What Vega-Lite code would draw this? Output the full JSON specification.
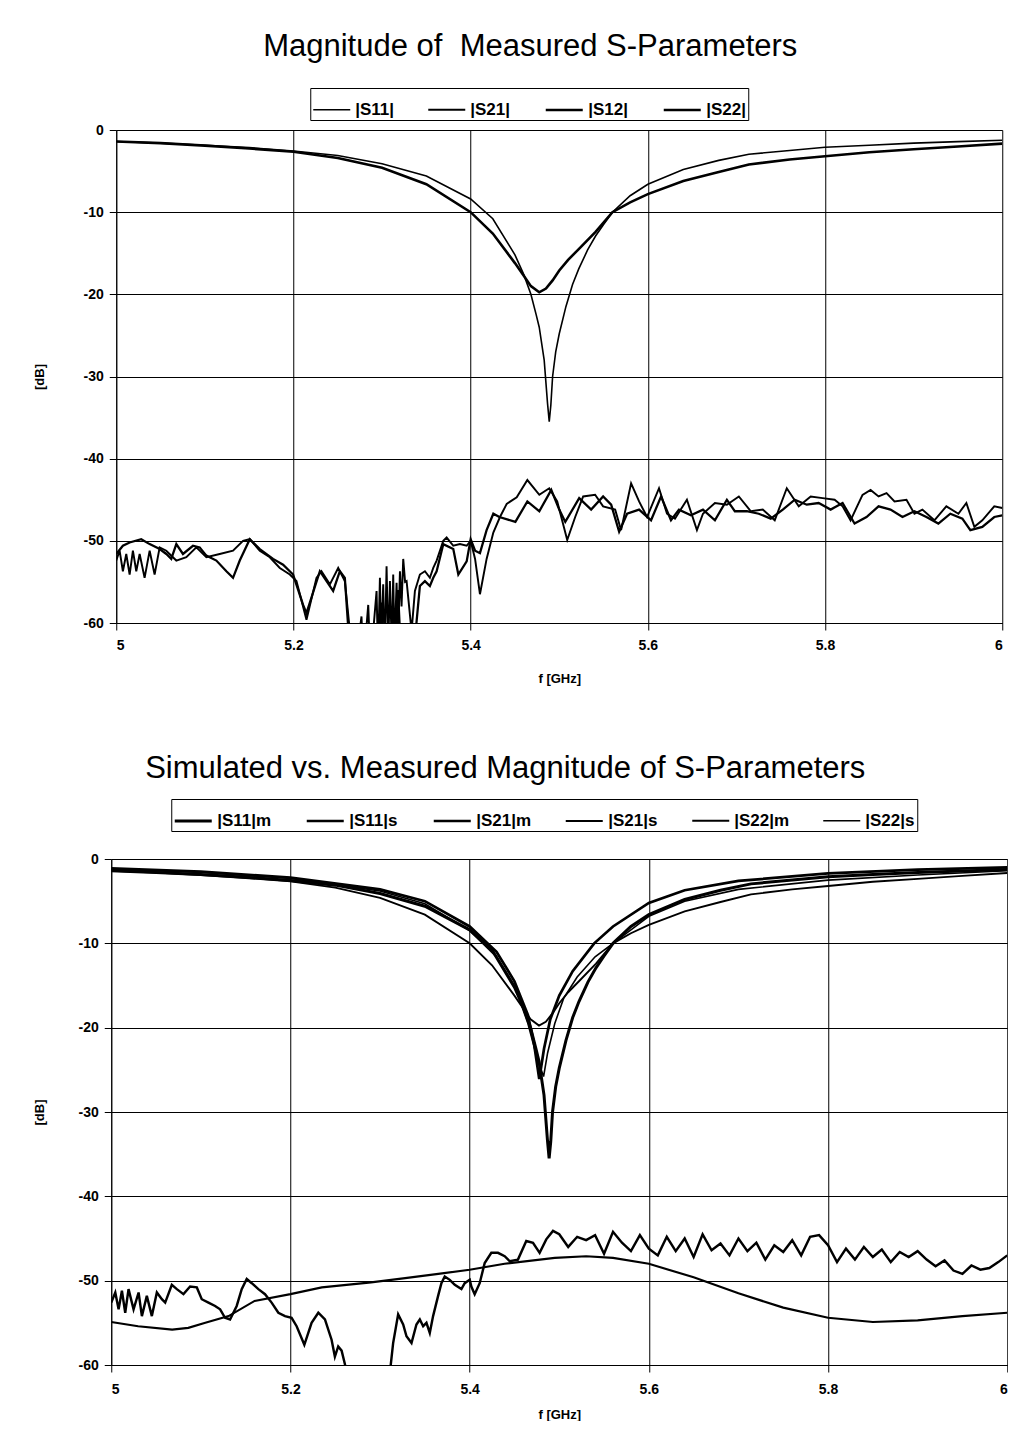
{
"$schema": "https://vega.github.io/schema/vega-lite/v6.json",
"background": "white",
"padding": {"left": 33, "top": 30, "right": 0, "bottom": 0},
"config": {
  "font": "Liberation Sans",
  "view": {"stroke": null},
  "axis": {"domainColor": "black", "gridColor": "black", "gridOpacity": 1, "gridWidth": 1, "tickColor": "black", "labelColor": "black", "titleColor": "black", "labelFont": "Liberation Sans", "labelFontWeight": "bold", "labelFontSize": 14, "titleFont": "Liberation Sans", "titleFontWeight": "bold", "titleFontSize": 13, "tickSize": 7, "grid": true},
  "legend": {"labelFont": "Liberation Sans", "labelFontWeight": "bold", "labelFontSize": 17, "labelColor": "black", "symbolType": "stroke", "symbolSize": 1369, "symbolStrokeColor": "black", "strokeColor": "black", "padding": 2, "columnPadding": 30, "labelOffset": 4, "direction": "horizontal", "orient": "none", "title": null}
},
"columns": 1,
"center": true,
"spacing": 67,
"resolve": {"scale": {"strokeWidth": "independent"}, "legend": {"strokeWidth": "independent"}},
"concat": [
{
  "width": 886, "height": 493,
  "title": {"text": "Magnitude of\u00a0 Measured S-Parameters", "font": "Liberation Sans", "fontSize": 31, "fontWeight": "normal", "color": "black", "anchor": "middle", "frame": "group", "dx": -29, "offset": 1, "baseline": "alphabetic"},
  "data": {"values": [
    {"s":"|S11|","f":5.0,"v":-1.4},{"s":"|S11|","f":5.05,"v":-1.6},{"s":"|S11|","f":5.1,"v":-1.85},{"s":"|S11|","f":5.15,"v":-2.15},{"s":"|S11|","f":5.2,"v":-2.55},{"s":"|S11|","f":5.25,"v":-3.1},{"s":"|S11|","f":5.3,"v":-4.1},{"s":"|S11|","f":5.35,"v":-5.6},{"s":"|S11|","f":5.4,"v":-8.4},{"s":"|S11|","f":5.425,"v":-10.8},{"s":"|S11|","f":5.45,"v":-15.2},{"s":"|S11|","f":5.46,"v":-17.6},{"s":"|S11|","f":5.468,"v":-20.0},{"s":"|S11|","f":5.474,"v":-22.5},{"s":"|S11|","f":5.4774,"v":-24.0},{"s":"|S11|","f":5.483,"v":-28.0},{"s":"|S11|","f":5.4868,"v":-33.3},{"s":"|S11|","f":5.4887,"v":-35.5},{"s":"|S11|","f":5.4905,"v":-33.5},{"s":"|S11|","f":5.4925,"v":-30.0},{"s":"|S11|","f":5.496,"v":-27.0},{"s":"|S11|","f":5.5,"v":-24.8},{"s":"|S11|","f":5.5075,"v":-21.5},{"s":"|S11|","f":5.515,"v":-18.8},{"s":"|S11|","f":5.522,"v":-16.9},{"s":"|S11|","f":5.532,"v":-14.6},{"s":"|S11|","f":5.541,"v":-12.9},{"s":"|S11|","f":5.55,"v":-11.5},{"s":"|S11|","f":5.56,"v":-10.0},{"s":"|S11|","f":5.58,"v":-8.0},{"s":"|S11|","f":5.6,"v":-6.6},{"s":"|S11|","f":5.64,"v":-4.8},{"s":"|S11|","f":5.68,"v":-3.7},{"s":"|S11|","f":5.714,"v":-2.95},{"s":"|S11|","f":5.76,"v":-2.5},{"s":"|S11|","f":5.8,"v":-2.1},{"s":"|S11|","f":5.85,"v":-1.85},{"s":"|S11|","f":5.9,"v":-1.6},{"s":"|S11|","f":5.95,"v":-1.42},{"s":"|S11|","f":6.0,"v":-1.25},
    {"s":"|S22|","f":5.0,"v":-1.4},{"s":"|S22|","f":5.05,"v":-1.6},{"s":"|S22|","f":5.1,"v":-1.9},{"s":"|S22|","f":5.15,"v":-2.25},{"s":"|S22|","f":5.2,"v":-2.65},{"s":"|S22|","f":5.25,"v":-3.4},{"s":"|S22|","f":5.3,"v":-4.6},{"s":"|S22|","f":5.35,"v":-6.6},{"s":"|S22|","f":5.4,"v":-10.0},{"s":"|S22|","f":5.425,"v":-12.6},{"s":"|S22|","f":5.45,"v":-16.2},{"s":"|S22|","f":5.459,"v":-17.6},{"s":"|S22|","f":5.468,"v":-19.0},{"s":"|S22|","f":5.4774,"v":-19.75},{"s":"|S22|","f":5.485,"v":-19.3},{"s":"|S22|","f":5.4925,"v":-18.3},{"s":"|S22|","f":5.5,"v":-17.1},{"s":"|S22|","f":5.51,"v":-15.8},{"s":"|S22|","f":5.522,"v":-14.5},{"s":"|S22|","f":5.541,"v":-12.4},{"s":"|S22|","f":5.56,"v":-10.0},{"s":"|S22|","f":5.58,"v":-8.8},{"s":"|S22|","f":5.6,"v":-7.8},{"s":"|S22|","f":5.64,"v":-6.2},{"s":"|S22|","f":5.68,"v":-5.1},{"s":"|S22|","f":5.714,"v":-4.2},{"s":"|S22|","f":5.76,"v":-3.6},{"s":"|S22|","f":5.8,"v":-3.2},{"s":"|S22|","f":5.85,"v":-2.7},{"s":"|S22|","f":5.9,"v":-2.35},{"s":"|S22|","f":5.95,"v":-2.0},{"s":"|S22|","f":6.0,"v":-1.66},
    {"s":"|S21|","f":5.0,"v":-52.4},{"s":"|S21|","f":5.0038,"v":-51.2},{"s":"|S21|","f":5.0075,"v":-53.7},{"s":"|S21|","f":5.0113,"v":-51.6},{"s":"|S21|","f":5.0151,"v":-54.1},{"s":"|S21|","f":5.0188,"v":-51.2},{"s":"|S21|","f":5.0226,"v":-53.7},{"s":"|S21|","f":5.0264,"v":-51.6},{"s":"|S21|","f":5.032,"v":-54.5},{"s":"|S21|","f":5.0377,"v":-51.2},{"s":"|S21|","f":5.0433,"v":-54.1},{"s":"|S21|","f":5.049,"v":-50.8},{"s":"|S21|","f":5.0565,"v":-51.2},{"s":"|S21|","f":5.0678,"v":-52.4},{"s":"|S21|","f":5.0791,"v":-52.0},{"s":"|S21|","f":5.0904,"v":-50.8},{"s":"|S21|","f":5.1017,"v":-52.0},{"s":"|S21|","f":5.1168,"v":-51.6},{"s":"|S21|","f":5.1318,"v":-51.2},{"s":"|S21|","f":5.1431,"v":-50.0},{"s":"|S21|","f":5.1507,"v":-49.8},{"s":"|S21|","f":5.162,"v":-51.2},{"s":"|S21|","f":5.1733,"v":-52.0},{"s":"|S21|","f":5.1846,"v":-53.3},{"s":"|S21|","f":5.1959,"v":-54.1},{"s":"|S21|","f":5.2034,"v":-54.9},{"s":"|S21|","f":5.2147,"v":-59.6},{"s":"|S21|","f":5.226,"v":-54.5},{"s":"|S21|","f":5.2316,"v":-53.7},{"s":"|S21|","f":5.2411,"v":-55.3},{"s":"|S21|","f":5.2505,"v":-53.3},{"s":"|S21|","f":5.258,"v":-54.9},{"s":"|S21|","f":5.2637,"v":-61},{"s":"|S21|","f":5.27,"v":-65},{"s":"|S21|","f":5.2768,"v":-59.2},{"s":"|S21|","f":5.279,"v":-65},{"s":"|S21|","f":5.2844,"v":-57.8},{"s":"|S21|","f":5.287,"v":-65},{"s":"|S21|","f":5.2938,"v":-56.1},{"s":"|S21|","f":5.2955,"v":-64},{"s":"|S21|","f":5.2976,"v":-54.5},{"s":"|S21|","f":5.299,"v":-63},{"s":"|S21|","f":5.3013,"v":-55.3},{"s":"|S21|","f":5.303,"v":-64},{"s":"|S21|","f":5.3051,"v":-53.1},{"s":"|S21|","f":5.307,"v":-63},{"s":"|S21|","f":5.3089,"v":-54.9},{"s":"|S21|","f":5.311,"v":-63},{"s":"|S21|","f":5.3126,"v":-54.1},{"s":"|S21|","f":5.314,"v":-63},{"s":"|S21|","f":5.3164,"v":-55.1},{"s":"|S21|","f":5.318,"v":-62},{"s":"|S21|","f":5.3202,"v":-53.7},{"s":"|S21|","f":5.322,"v":-58},{"s":"|S21|","f":5.3239,"v":-52.2},{"s":"|S21|","f":5.326,"v":-55},{"s":"|S21|","f":5.3277,"v":-54.9},{"s":"|S21|","f":5.3333,"v":-61},{"s":"|S21|","f":5.3371,"v":-56.1},{"s":"|S21|","f":5.3427,"v":-54.1},{"s":"|S21|","f":5.3484,"v":-53.7},{"s":"|S21|","f":5.354,"v":-54.5},{"s":"|S21|","f":5.3578,"v":-53.3},{"s":"|S21|","f":5.3616,"v":-52.4},{"s":"|S21|","f":5.3691,"v":-50.0},{"s":"|S21|","f":5.3729,"v":-49.6},{"s":"|S21|","f":5.3804,"v":-50.6},{"s":"|S21|","f":5.3879,"v":-50.4},{"s":"|S21|","f":5.3955,"v":-50.6},{"s":"|S21|","f":5.4,"v":-50.0},{"s":"|S21|","f":5.405,"v":-52.2},{"s":"|S21|","f":5.4105,"v":-56.5},{"s":"|S21|","f":5.418,"v":-52.2},{"s":"|S21|","f":5.4256,"v":-49.0},{"s":"|S21|","f":5.4331,"v":-47.1},{"s":"|S21|","f":5.4407,"v":-45.5},{"s":"|S21|","f":5.452,"v":-44.7},{"s":"|S21|","f":5.464,"v":-42.6},{"s":"|S21|","f":5.4775,"v":-44.4},{"s":"|S21|","f":5.4887,"v":-43.6},{"s":"|S21|","f":5.4977,"v":-45.2},{"s":"|S21|","f":5.509,"v":-49.9},{"s":"|S21|","f":5.518,"v":-47.1},{"s":"|S21|","f":5.527,"v":-44.6},{"s":"|S21|","f":5.5405,"v":-44.4},{"s":"|S21|","f":5.5495,"v":-45.8},{"s":"|S21|","f":5.5631,"v":-46.2},{"s":"|S21|","f":5.5698,"v":-48.7},{"s":"|S21|","f":5.5811,"v":-43.0},{"s":"|S21|","f":5.5901,"v":-45.2},{"s":"|S21|","f":5.5991,"v":-47.1},{"s":"|S21|","f":5.6126,"v":-43.6},{"s":"|S21|","f":5.6216,"v":-46.7},{"s":"|S21|","f":5.6306,"v":-47.3},{"s":"|S21|","f":5.6441,"v":-45.0},{"s":"|S21|","f":5.6554,"v":-48.7},{"s":"|S21|","f":5.6622,"v":-46.7},{"s":"|S21|","f":5.6757,"v":-45.4},{"s":"|S21|","f":5.6892,"v":-45.6},{"s":"|S21|","f":5.7027,"v":-44.6},{"s":"|S21|","f":5.7162,"v":-46.4},{"s":"|S21|","f":5.7297,"v":-46.2},{"s":"|S21|","f":5.7432,"v":-47.5},{"s":"|S21|","f":5.7568,"v":-43.6},{"s":"|S21|","f":5.7703,"v":-45.8},{"s":"|S21|","f":5.7838,"v":-44.6},{"s":"|S21|","f":5.7973,"v":-44.8},{"s":"|S21|","f":5.8108,"v":-45.0},{"s":"|S21|","f":5.8198,"v":-45.8},{"s":"|S21|","f":5.8288,"v":-47.5},{"s":"|S21|","f":5.8423,"v":-44.4},{"s":"|S21|","f":5.8514,"v":-43.8},{"s":"|S21|","f":5.8604,"v":-44.6},{"s":"|S21|","f":5.8694,"v":-44.2},{"s":"|S21|","f":5.8784,"v":-45.2},{"s":"|S21|","f":5.8919,"v":-45.0},{"s":"|S21|","f":5.9009,"v":-46.7},{"s":"|S21|","f":5.9099,"v":-46.2},{"s":"|S21|","f":5.9234,"v":-47.5},{"s":"|S21|","f":5.9369,"v":-45.8},{"s":"|S21|","f":5.9505,"v":-46.7},{"s":"|S21|","f":5.9595,"v":-45.4},{"s":"|S21|","f":5.9685,"v":-48.3},{"s":"|S21|","f":5.9775,"v":-47.5},{"s":"|S21|","f":5.991,"v":-45.8},{"s":"|S21|","f":6.0,"v":-46.0},
    {"s":"|S12|","f":5.0,"v":-51.6},{"s":"|S12|","f":5.0075,"v":-50.6},{"s":"|S12|","f":5.0151,"v":-50.2},{"s":"|S12|","f":5.0282,"v":-49.8},{"s":"|S12|","f":5.0377,"v":-50.4},{"s":"|S12|","f":5.049,"v":-51.0},{"s":"|S12|","f":5.0565,"v":-51.6},{"s":"|S12|","f":5.0621,"v":-52.2},{"s":"|S12|","f":5.0678,"v":-50.4},{"s":"|S12|","f":5.0753,"v":-51.6},{"s":"|S12|","f":5.0866,"v":-50.6},{"s":"|S12|","f":5.0942,"v":-50.8},{"s":"|S12|","f":5.1017,"v":-51.8},{"s":"|S12|","f":5.113,"v":-52.4},{"s":"|S12|","f":5.1243,"v":-53.7},{"s":"|S12|","f":5.1318,"v":-54.5},{"s":"|S12|","f":5.1394,"v":-52.4},{"s":"|S12|","f":5.1507,"v":-49.8},{"s":"|S12|","f":5.162,"v":-51.0},{"s":"|S12|","f":5.177,"v":-52.2},{"s":"|S12|","f":5.1883,"v":-52.9},{"s":"|S12|","f":5.1996,"v":-54.1},{"s":"|S12|","f":5.2109,"v":-57.8},{"s":"|S12|","f":5.2147,"v":-58.8},{"s":"|S12|","f":5.2298,"v":-53.7},{"s":"|S12|","f":5.2448,"v":-56.1},{"s":"|S12|","f":5.2524,"v":-53.7},{"s":"|S12|","f":5.258,"v":-54.5},{"s":"|S12|","f":5.2618,"v":-60.5},{"s":"|S12|","f":5.265,"v":-65},{"s":"|S12|","f":5.29,"v":-66},{"s":"|S12|","f":5.2975,"v":-62},{"s":"|S12|","f":5.2995,"v":-57.5},{"s":"|S12|","f":5.301,"v":-63},{"s":"|S12|","f":5.31,"v":-65},{"s":"|S12|","f":5.315,"v":-61},{"s":"|S12|","f":5.318,"v":-56},{"s":"|S12|","f":5.321,"v":-63},{"s":"|S12|","f":5.33,"v":-64},{"s":"|S12|","f":5.3371,"v":-62},{"s":"|S12|","f":5.3427,"v":-55.5},{"s":"|S12|","f":5.3484,"v":-54.9},{"s":"|S12|","f":5.354,"v":-55.5},{"s":"|S12|","f":5.3578,"v":-54.5},{"s":"|S12|","f":5.3616,"v":-53.7},{"s":"|S12|","f":5.3691,"v":-50.4},{"s":"|S12|","f":5.3804,"v":-51.0},{"s":"|S12|","f":5.3861,"v":-54.1},{"s":"|S12|","f":5.3955,"v":-52.5},{"s":"|S12|","f":5.4,"v":-49.8},{"s":"|S12|","f":5.405,"v":-51.2},{"s":"|S12|","f":5.4105,"v":-51.5},{"s":"|S12|","f":5.418,"v":-48.7},{"s":"|S12|","f":5.4256,"v":-46.7},{"s":"|S12|","f":5.4324,"v":-47.1},{"s":"|S12|","f":5.4505,"v":-47.7},{"s":"|S12|","f":5.464,"v":-45.2},{"s":"|S12|","f":5.4775,"v":-46.4},{"s":"|S12|","f":5.491,"v":-43.8},{"s":"|S12|","f":5.5,"v":-46.2},{"s":"|S12|","f":5.5068,"v":-47.7},{"s":"|S12|","f":5.5225,"v":-44.8},{"s":"|S12|","f":5.536,"v":-46.2},{"s":"|S12|","f":5.5495,"v":-44.6},{"s":"|S12|","f":5.5586,"v":-45.6},{"s":"|S12|","f":5.5676,"v":-48.9},{"s":"|S12|","f":5.5766,"v":-46.7},{"s":"|S12|","f":5.5901,"v":-46.2},{"s":"|S12|","f":5.6036,"v":-47.5},{"s":"|S12|","f":5.6149,"v":-44.6},{"s":"|S12|","f":5.6261,"v":-47.5},{"s":"|S12|","f":5.6351,"v":-46.2},{"s":"|S12|","f":5.6486,"v":-46.9},{"s":"|S12|","f":5.6622,"v":-46.2},{"s":"|S12|","f":5.6757,"v":-47.5},{"s":"|S12|","f":5.6892,"v":-45.0},{"s":"|S12|","f":5.6982,"v":-46.4},{"s":"|S12|","f":5.7117,"v":-46.4},{"s":"|S12|","f":5.7252,"v":-46.7},{"s":"|S12|","f":5.7387,"v":-47.3},{"s":"|S12|","f":5.7523,"v":-46.2},{"s":"|S12|","f":5.7658,"v":-45.0},{"s":"|S12|","f":5.7793,"v":-45.6},{"s":"|S12|","f":5.7928,"v":-45.4},{"s":"|S12|","f":5.8063,"v":-46.2},{"s":"|S12|","f":5.8198,"v":-45.4},{"s":"|S12|","f":5.8333,"v":-47.9},{"s":"|S12|","f":5.8468,"v":-47.1},{"s":"|S12|","f":5.8604,"v":-45.8},{"s":"|S12|","f":5.8739,"v":-46.2},{"s":"|S12|","f":5.8874,"v":-47.1},{"s":"|S12|","f":5.9009,"v":-46.4},{"s":"|S12|","f":5.9144,"v":-47.1},{"s":"|S12|","f":5.9279,"v":-47.9},{"s":"|S12|","f":5.9414,"v":-46.7},{"s":"|S12|","f":5.955,"v":-47.3},{"s":"|S12|","f":5.964,"v":-48.7},{"s":"|S12|","f":5.9775,"v":-48.3},{"s":"|S12|","f":5.991,"v":-47.1},{"s":"|S12|","f":6.0,"v":-46.9}
  ]},
  "mark": {"type": "line", "color": "black", "clip": true},
  "encoding": {
    "x": {"field": "f", "type": "quantitative", "scale": {"domain": [5, 6], "nice": false, "zero": false}, "axis": {"values": [5, 5.2, 5.4, 5.6, 5.8, 6], "labelExpr": "datum.value + ''", "title": "f [GHz]", "labelPadding": 8, "titlePadding": 20}},
    "y": {"field": "v", "type": "quantitative", "scale": {"domain": [-60, 0], "nice": false}, "axis": {"values": [0, -10, -20, -30, -40, -50, -60], "labelExpr": "datum.value + ''", "title": "[dB]", "labelPadding": 6, "titlePadding": 37}},
    "strokeWidth": {"field": "s", "type": "nominal", "scale": {"domain": ["|S11|", "|S21|", "|S12|", "|S22|"], "range": [1.6, 2.6, 3, 2.2]}, "legend": {"legendX": 194, "legendY": -42}}
  }
},
{
  "width": 896, "height": 506,
  "title": {"text": "Simulated vs. Measured Magnitude of S-Parameters", "font": "Liberation Sans", "fontSize": 31, "fontWeight": "normal", "color": "black", "anchor": "middle", "frame": "group", "dx": -54, "offset": -10, "baseline": "alphabetic"},
  "data": {"values": [
    {"s":"|S11|m","f":5.0,"v":-1.4},{"s":"|S11|m","f":5.05,"v":-1.6},{"s":"|S11|m","f":5.1,"v":-1.85},{"s":"|S11|m","f":5.15,"v":-2.15},{"s":"|S11|m","f":5.2,"v":-2.55},{"s":"|S11|m","f":5.25,"v":-3.1},{"s":"|S11|m","f":5.3,"v":-4.1},{"s":"|S11|m","f":5.35,"v":-5.6},{"s":"|S11|m","f":5.4,"v":-8.4},{"s":"|S11|m","f":5.425,"v":-10.8},{"s":"|S11|m","f":5.45,"v":-15.2},{"s":"|S11|m","f":5.46,"v":-17.6},{"s":"|S11|m","f":5.468,"v":-20.0},{"s":"|S11|m","f":5.474,"v":-22.5},{"s":"|S11|m","f":5.4774,"v":-24.0},{"s":"|S11|m","f":5.483,"v":-28.0},{"s":"|S11|m","f":5.4868,"v":-33.3},{"s":"|S11|m","f":5.4887,"v":-35.5},{"s":"|S11|m","f":5.4905,"v":-33.5},{"s":"|S11|m","f":5.4925,"v":-30.0},{"s":"|S11|m","f":5.496,"v":-27.0},{"s":"|S11|m","f":5.5,"v":-24.8},{"s":"|S11|m","f":5.5075,"v":-21.5},{"s":"|S11|m","f":5.515,"v":-18.8},{"s":"|S11|m","f":5.522,"v":-16.9},{"s":"|S11|m","f":5.532,"v":-14.6},{"s":"|S11|m","f":5.541,"v":-12.9},{"s":"|S11|m","f":5.55,"v":-11.5},{"s":"|S11|m","f":5.56,"v":-10.0},{"s":"|S11|m","f":5.58,"v":-8.0},{"s":"|S11|m","f":5.6,"v":-6.6},{"s":"|S11|m","f":5.64,"v":-4.8},{"s":"|S11|m","f":5.68,"v":-3.7},{"s":"|S11|m","f":5.714,"v":-2.95},{"s":"|S11|m","f":5.76,"v":-2.5},{"s":"|S11|m","f":5.8,"v":-2.1},{"s":"|S11|m","f":5.85,"v":-1.85},{"s":"|S11|m","f":5.9,"v":-1.6},{"s":"|S11|m","f":5.95,"v":-1.42},{"s":"|S11|m","f":6.0,"v":-1.25},
    {"s":"|S22|m","f":5.0,"v":-1.4},{"s":"|S22|m","f":5.05,"v":-1.6},{"s":"|S22|m","f":5.1,"v":-1.9},{"s":"|S22|m","f":5.15,"v":-2.25},{"s":"|S22|m","f":5.2,"v":-2.65},{"s":"|S22|m","f":5.25,"v":-3.4},{"s":"|S22|m","f":5.3,"v":-4.6},{"s":"|S22|m","f":5.35,"v":-6.6},{"s":"|S22|m","f":5.4,"v":-10.0},{"s":"|S22|m","f":5.425,"v":-12.6},{"s":"|S22|m","f":5.45,"v":-16.2},{"s":"|S22|m","f":5.459,"v":-17.6},{"s":"|S22|m","f":5.468,"v":-19.0},{"s":"|S22|m","f":5.4774,"v":-19.75},{"s":"|S22|m","f":5.485,"v":-19.3},{"s":"|S22|m","f":5.4925,"v":-18.3},{"s":"|S22|m","f":5.5,"v":-17.1},{"s":"|S22|m","f":5.51,"v":-15.8},{"s":"|S22|m","f":5.522,"v":-14.5},{"s":"|S22|m","f":5.541,"v":-12.4},{"s":"|S22|m","f":5.56,"v":-10.0},{"s":"|S22|m","f":5.58,"v":-8.8},{"s":"|S22|m","f":5.6,"v":-7.8},{"s":"|S22|m","f":5.64,"v":-6.2},{"s":"|S22|m","f":5.68,"v":-5.1},{"s":"|S22|m","f":5.714,"v":-4.2},{"s":"|S22|m","f":5.76,"v":-3.6},{"s":"|S22|m","f":5.8,"v":-3.2},{"s":"|S22|m","f":5.85,"v":-2.7},{"s":"|S22|m","f":5.9,"v":-2.35},{"s":"|S22|m","f":5.95,"v":-2.0},{"s":"|S22|m","f":6.0,"v":-1.66},
    {"s":"|S11|s","f":5.0,"v":-1.1},{"s":"|S11|s","f":5.1,"v":-1.5},{"s":"|S11|s","f":5.2,"v":-2.2},{"s":"|S11|s","f":5.3,"v":-3.6},{"s":"|S11|s","f":5.35,"v":-5.0},{"s":"|S11|s","f":5.4,"v":-8.0},{"s":"|S11|s","f":5.43,"v":-11.0},{"s":"|S11|s","f":5.45,"v":-14.5},{"s":"|S11|s","f":5.465,"v":-18.5},{"s":"|S11|s","f":5.472,"v":-22.0},{"s":"|S11|s","f":5.4777,"v":-26.1},{"s":"|S11|s","f":5.483,"v":-22.5},{"s":"|S11|s","f":5.49,"v":-19.0},{"s":"|S11|s","f":5.5,"v":-16.2},{"s":"|S11|s","f":5.515,"v":-13.3},{"s":"|S11|s","f":5.539,"v":-10.0},{"s":"|S11|s","f":5.56,"v":-8.0},{"s":"|S11|s","f":5.6,"v":-5.2},{"s":"|S11|s","f":5.64,"v":-3.7},{"s":"|S11|s","f":5.7,"v":-2.6},{"s":"|S11|s","f":5.8,"v":-1.7},{"s":"|S11|s","f":5.9,"v":-1.25},{"s":"|S11|s","f":6.0,"v":-1.0},
    {"s":"|S22|s","f":5.0,"v":-1.2},{"s":"|S22|s","f":5.1,"v":-1.6},{"s":"|S22|s","f":5.2,"v":-2.3},{"s":"|S22|s","f":5.3,"v":-3.8},{"s":"|S22|s","f":5.35,"v":-5.3},{"s":"|S22|s","f":5.4,"v":-8.5},{"s":"|S22|s","f":5.43,"v":-11.6},{"s":"|S22|s","f":5.45,"v":-15.0},{"s":"|S22|s","f":5.465,"v":-19.5},{"s":"|S22|s","f":5.475,"v":-23.5},{"s":"|S22|s","f":5.4825,"v":-25.8},{"s":"|S22|s","f":5.487,"v":-23.0},{"s":"|S22|s","f":5.495,"v":-19.5},{"s":"|S22|s","f":5.505,"v":-16.5},{"s":"|S22|s","f":5.52,"v":-14.0},{"s":"|S22|s","f":5.54,"v":-11.6},{"s":"|S22|s","f":5.56,"v":-10.0},{"s":"|S22|s","f":5.6,"v":-6.8},{"s":"|S22|s","f":5.64,"v":-5.0},{"s":"|S22|s","f":5.7,"v":-3.6},{"s":"|S22|s","f":5.8,"v":-2.5},{"s":"|S22|s","f":5.9,"v":-1.9},{"s":"|S22|s","f":6.0,"v":-1.4},
    {"s":"|S21|m","f":5.0,"v":-52.6},{"s":"|S21|m","f":5.0045,"v":-51.4},{"s":"|S21|m","f":5.0082,"v":-53.4},{"s":"|S21|m","f":5.0119,"v":-51.2},{"s":"|S21|m","f":5.0156,"v":-53.8},{"s":"|S21|m","f":5.0193,"v":-51.0},{"s":"|S21|m","f":5.0249,"v":-53.4},{"s":"|S21|m","f":5.0305,"v":-51.4},{"s":"|S21|m","f":5.0342,"v":-54.2},{"s":"|S21|m","f":5.0397,"v":-51.8},{"s":"|S21|m","f":5.0453,"v":-54.2},{"s":"|S21|m","f":5.0509,"v":-51.4},{"s":"|S21|m","f":5.0565,"v":-52.2},{"s":"|S21|m","f":5.0602,"v":-52.6},{"s":"|S21|m","f":5.0676,"v":-50.5},{"s":"|S21|m","f":5.0732,"v":-51.0},{"s":"|S21|m","f":5.0806,"v":-51.6},{"s":"|S21|m","f":5.088,"v":-50.7},{"s":"|S21|m","f":5.0955,"v":-50.8},{"s":"|S21|m","f":5.101,"v":-52.2},{"s":"|S21|m","f":5.1085,"v":-52.6},{"s":"|S21|m","f":5.1159,"v":-53.0},{"s":"|S21|m","f":5.1215,"v":-53.4},{"s":"|S21|m","f":5.127,"v":-54.4},{"s":"|S21|m","f":5.1326,"v":-54.6},{"s":"|S21|m","f":5.14,"v":-53.0},{"s":"|S21|m","f":5.1456,"v":-51.0},{"s":"|S21|m","f":5.1512,"v":-49.8},{"s":"|S21|m","f":5.1568,"v":-50.3},{"s":"|S21|m","f":5.1642,"v":-51.0},{"s":"|S21|m","f":5.1716,"v":-51.6},{"s":"|S21|m","f":5.179,"v":-52.6},{"s":"|S21|m","f":5.1865,"v":-53.8},{"s":"|S21|m","f":5.1939,"v":-54.2},{"s":"|S21|m","f":5.2013,"v":-54.4},{"s":"|S21|m","f":5.2069,"v":-55.4},{"s":"|S21|m","f":5.2155,"v":-57.6},{"s":"|S21|m","f":5.2236,"v":-55.0},{"s":"|S21|m","f":5.2311,"v":-53.8},{"s":"|S21|m","f":5.2385,"v":-54.6},{"s":"|S21|m","f":5.2459,"v":-57.0},{"s":"|S21|m","f":5.2496,"v":-59.0},{"s":"|S21|m","f":5.2533,"v":-57.8},{"s":"|S21|m","f":5.2571,"v":-58.3},{"s":"|S21|m","f":5.2608,"v":-59.9},{"s":"|S21|m","f":5.2626,"v":-61},{"s":"|S21|m","f":5.28,"v":-66},{"s":"|S21|m","f":5.3,"v":-66},{"s":"|S21|m","f":5.3109,"v":-61},{"s":"|S21|m","f":5.3146,"v":-57.4},{"s":"|S21|m","f":5.3202,"v":-54.0},{"s":"|S21|m","f":5.3258,"v":-55.2},{"s":"|S21|m","f":5.3295,"v":-56.6},{"s":"|S21|m","f":5.3351,"v":-57.4},{"s":"|S21|m","f":5.3406,"v":-55.2},{"s":"|S21|m","f":5.3444,"v":-54.6},{"s":"|S21|m","f":5.3481,"v":-55.4},{"s":"|S21|m","f":5.3518,"v":-55.0},{"s":"|S21|m","f":5.3555,"v":-56.2},{"s":"|S21|m","f":5.3592,"v":-54.2},{"s":"|S21|m","f":5.3648,"v":-51.8},{"s":"|S21|m","f":5.3685,"v":-50.3},{"s":"|S21|m","f":5.3722,"v":-49.5},{"s":"|S21|m","f":5.3778,"v":-49.9},{"s":"|S21|m","f":5.3834,"v":-50.5},{"s":"|S21|m","f":5.3908,"v":-51.0},{"s":"|S21|m","f":5.3945,"v":-50.3},{"s":"|S21|m","f":5.4001,"v":-49.9},{"s":"|S21|m","f":5.4019,"v":-50.7},{"s":"|S21|m","f":5.4056,"v":-51.6},{"s":"|S21|m","f":5.4112,"v":-50.3},{"s":"|S21|m","f":5.4168,"v":-47.9},{"s":"|S21|m","f":5.4242,"v":-46.7},{"s":"|S21|m","f":5.4316,"v":-46.7},{"s":"|S21|m","f":5.4391,"v":-47.1},{"s":"|S21|m","f":5.4447,"v":-47.7},{"s":"|S21|m","f":5.4539,"v":-47.5},{"s":"|S21|m","f":5.4632,"v":-45.3},{"s":"|S21|m","f":5.4707,"v":-45.5},{"s":"|S21|m","f":5.4781,"v":-46.7},{"s":"|S21|m","f":5.4855,"v":-45.1},{"s":"|S21|m","f":5.493,"v":-44.1},{"s":"|S21|m","f":5.5,"v":-44.5},{"s":"|S21|m","f":5.51,"v":-46.0},{"s":"|S21|m","f":5.52,"v":-44.8},{"s":"|S21|m","f":5.53,"v":-45.2},{"s":"|S21|m","f":5.54,"v":-44.6},{"s":"|S21|m","f":5.55,"v":-46.8},{"s":"|S21|m","f":5.56,"v":-44.2},{"s":"|S21|m","f":5.57,"v":-45.5},{"s":"|S21|m","f":5.58,"v":-46.5},{"s":"|S21|m","f":5.59,"v":-44.6},{"s":"|S21|m","f":5.6,"v":-46.2},{"s":"|S21|m","f":5.61,"v":-47.0},{"s":"|S21|m","f":5.62,"v":-44.8},{"s":"|S21|m","f":5.63,"v":-46.5},{"s":"|S21|m","f":5.64,"v":-45.0},{"s":"|S21|m","f":5.65,"v":-47.2},{"s":"|S21|m","f":5.66,"v":-44.5},{"s":"|S21|m","f":5.67,"v":-46.4},{"s":"|S21|m","f":5.68,"v":-45.6},{"s":"|S21|m","f":5.69,"v":-47.0},{"s":"|S21|m","f":5.7,"v":-45.0},{"s":"|S21|m","f":5.71,"v":-46.5},{"s":"|S21|m","f":5.72,"v":-45.5},{"s":"|S21|m","f":5.73,"v":-47.5},{"s":"|S21|m","f":5.74,"v":-45.8},{"s":"|S21|m","f":5.75,"v":-46.6},{"s":"|S21|m","f":5.76,"v":-45.2},{"s":"|S21|m","f":5.77,"v":-47.0},{"s":"|S21|m","f":5.78,"v":-44.8},{"s":"|S21|m","f":5.79,"v":-44.6},{"s":"|S21|m","f":5.8,"v":-45.8},{"s":"|S21|m","f":5.81,"v":-47.8},{"s":"|S21|m","f":5.82,"v":-46.2},{"s":"|S21|m","f":5.83,"v":-47.5},{"s":"|S21|m","f":5.84,"v":-46.0},{"s":"|S21|m","f":5.85,"v":-47.2},{"s":"|S21|m","f":5.86,"v":-46.3},{"s":"|S21|m","f":5.87,"v":-47.8},{"s":"|S21|m","f":5.88,"v":-46.6},{"s":"|S21|m","f":5.89,"v":-47.2},{"s":"|S21|m","f":5.9,"v":-46.5},{"s":"|S21|m","f":5.91,"v":-47.5},{"s":"|S21|m","f":5.92,"v":-48.3},{"s":"|S21|m","f":5.93,"v":-47.6},{"s":"|S21|m","f":5.94,"v":-48.8},{"s":"|S21|m","f":5.95,"v":-49.2},{"s":"|S21|m","f":5.96,"v":-48.2},{"s":"|S21|m","f":5.97,"v":-48.7},{"s":"|S21|m","f":5.98,"v":-48.5},{"s":"|S21|m","f":5.99,"v":-47.8},{"s":"|S21|m","f":6.0,"v":-47.0},
    {"s":"|S21|s","f":5.0,"v":-54.9},{"s":"|S21|s","f":5.03,"v":-55.4},{"s":"|S21|s","f":5.068,"v":-55.8},{"s":"|S21|s","f":5.086,"v":-55.6},{"s":"|S21|s","f":5.105,"v":-55.0},{"s":"|S21|s","f":5.131,"v":-54.2},{"s":"|S21|s","f":5.16,"v":-52.4},{"s":"|S21|s","f":5.2,"v":-51.6},{"s":"|S21|s","f":5.235,"v":-50.8},{"s":"|S21|s","f":5.29,"v":-50.2},{"s":"|S21|s","f":5.328,"v":-49.7},{"s":"|S21|s","f":5.365,"v":-49.2},{"s":"|S21|s","f":5.4,"v":-48.7},{"s":"|S21|s","f":5.439,"v":-48.0},{"s":"|S21|s","f":5.495,"v":-47.3},{"s":"|S21|s","f":5.53,"v":-47.1},{"s":"|S21|s","f":5.56,"v":-47.3},{"s":"|S21|s","f":5.6,"v":-48.0},{"s":"|S21|s","f":5.65,"v":-49.6},{"s":"|S21|s","f":5.7,"v":-51.5},{"s":"|S21|s","f":5.75,"v":-53.2},{"s":"|S21|s","f":5.8,"v":-54.4},{"s":"|S21|s","f":5.85,"v":-54.9},{"s":"|S21|s","f":5.9,"v":-54.7},{"s":"|S21|s","f":5.95,"v":-54.2},{"s":"|S21|s","f":6.0,"v":-53.8}
  ]},
  "mark": {"type": "line", "color": "black", "clip": true},
  "encoding": {
    "x": {"field": "f", "type": "quantitative", "scale": {"domain": [5, 6], "nice": false, "zero": false}, "axis": {"values": [5, 5.2, 5.4, 5.6, 5.8, 6], "labelExpr": "datum.value + ''", "title": "f [GHz]", "labelPadding": 10, "titlePadding": 12}},
    "y": {"field": "v", "type": "quantitative", "scale": {"domain": [-60, 0], "nice": false}, "axis": {"values": [0, -10, -20, -30, -40, -50, -60], "labelExpr": "datum.value + ''", "title": "[dB]", "labelPadding": 6, "titlePadding": 32}},
    "strokeWidth": {"field": "s", "type": "nominal", "scale": {"domain": ["|S11|m", "|S11|s", "|S21|m", "|S21|s", "|S22|m", "|S22|s"], "range": [3, 1.6, 3, 1.6, 2, 1.6]}, "legend": {"legendX": 60, "legendY": -60}}
  }
}
]
}
